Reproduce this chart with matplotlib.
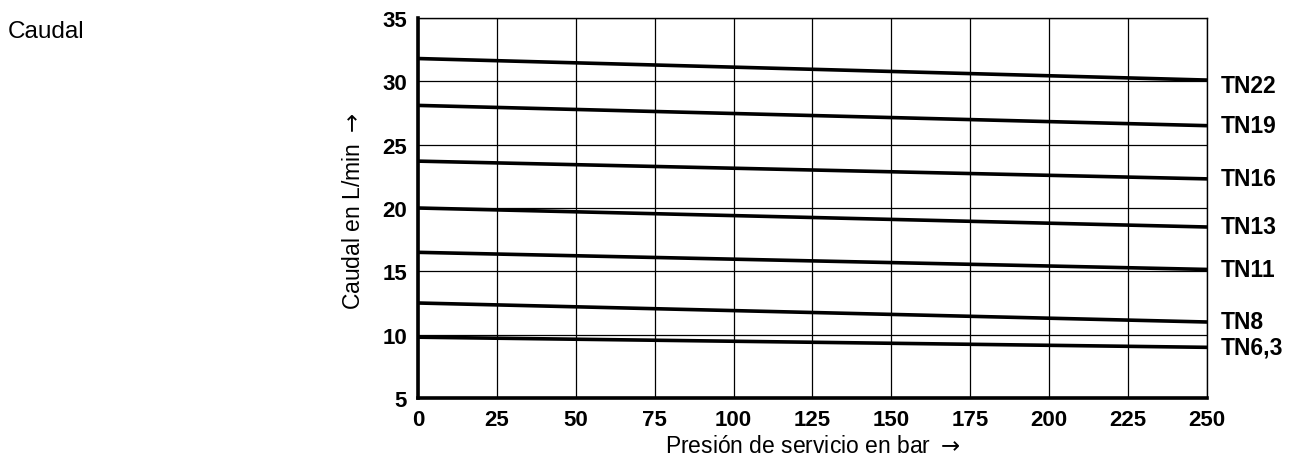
import matplotlib
matplotlib.use("Agg")
import matplotlib.pyplot as plt

# data (start at 0 bar, end at 250 bar)
presion = [0, 250]
series = ["TN22", "TN19", "TN16", "TN13", "TN11", "TN8", "TN6,3"]
caudal_0 = [31.8, 28.1, 23.7, 20.0, 16.5, 12.5, 9.8]
caudal_250 = [30.1, 26.5, 22.3, 18.5, 15.15, 11.0, 9.0]
xticks = [0, 25, 50, 75, 100, 125, 150, 175, 200, 225, 250]
yticks = [5, 10, 15, 20, 25, 30, 35]

plt.rcParams["font.family"] = ["Liberation Sans", "DejaVu Sans"]

W, H = 1292, 460
fig = plt.figure(figsize=(W / 100, H / 100), dpi=100)
L, R, T, B = 418, 1207, 19, 399
ax = fig.add_axes([L / W, 1 - B / H, (R - L) / W, (B - T) / H])

for name, a, b in zip(series, caudal_0, caudal_250):
    ax.plot(presion, [a, b], color="black", lw=2.6, solid_capstyle="butt", zorder=3)
    off = -4 if name == "TN22" else 0
    ax.annotate(name, xy=(presion[-1], b), xytext=(10, off), textcoords="offset points",
                ha="left", va="center", fontsize=16.5, fontweight="bold", annotation_clip=False)

ax.set_xlim(0, 250); ax.set_ylim(5, 35)
ax.set_xticks(xticks); ax.set_yticks(yticks)
ax.grid(True, color="black", lw=0.9)
ax.tick_params(length=0, pad=8, labelsize=16)
for lab in ax.get_xticklabels() + ax.get_yticklabels():
    lab.set_fontweight("bold")
for s in ["left", "bottom"]:
    ax.spines[s].set_linewidth(2.6)
for s in ["top", "right"]:
    ax.spines[s].set_linewidth(1.0)

fig.text(353 / W, 1 - 211 / H, "Caudal en L/min $\\rightarrow$", rotation=90,
         ha="center", va="center", fontsize=16.5)
fig.text((L + R) / 2 / W, 1 - 453 / H, "Presi\u00f3n de servicio en bar $\\rightarrow$",
         ha="center", va="baseline", fontsize=16.5)
fig.text(8 / W, 1 - 38 / H, "Caudal", ha="left", va="baseline", fontsize=17.5)

fig.savefig("out.png", dpi=100)
